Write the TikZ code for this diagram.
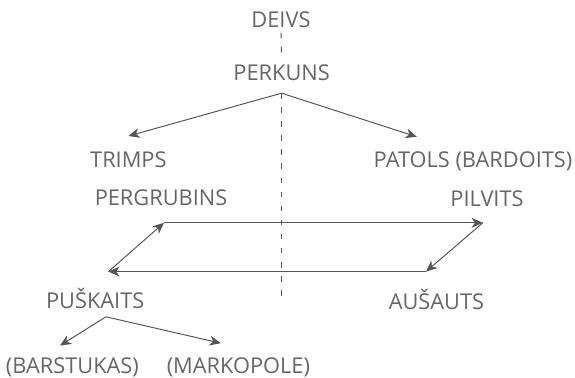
\documentclass[tikz,border=0pt]{standalone}
\usepackage{fontspec}
\setmainfont{Open Sans}
\usetikzlibrary{arrows.meta}
\definecolor{teksti}{HTML}{666666}
\definecolor{viiva}{HTML}{555555}

\begin{document}
\begin{tikzpicture}[
  nimi/.style={anchor=base,text=teksti,font=\fontsize{15.5}{18}\selectfont},
  nuoli/.style={draw=viiva,line width=0.7pt,-{Stealth[length=8pt,width=7pt,inset=2.5pt]}},
  katko/.style={draw=viiva,line width=0.7pt,dash pattern=on 4pt off 6pt}]
\useasboundingbox (0,0) rectangle (14.375,-9.45);
% jumalat
\node[nimi] (deivs) at (7.025,-0.69) {DEIVS};
\node[nimi] (perkuns) at (7.04,-2.01) {PERKUNS};
\node[nimi] (trimps) at (3.21,-4.2) {TRIMPS};
\node[nimi] (patols) at (11.825,-4.2) {PATOLS (BARDOITS)};
\node[nimi] (pergrubins) at (4.025,-5.15) {PERGRUBINS};
\node[nimi] (pilvits) at (12.175,-5.16) {PILVITS};
\node[nimi] (puskaits) at (2.38,-7.71) {PUŠKAITS};
\node[nimi] (ausauts) at (10.91,-7.74) {AUŠAUTS};
\node[nimi] (barstukas) at (1.81,-9.34) {(BARSTUKAS)};
\node[nimi] (markopole) at (5.96,-9.34) {(MARKOPOLE)};
% pisteet
\coordinate (haara) at (7.04,-2.33);
\coordinate (pohja) at (7.04,-7.54);
\coordinate (trimps-in) at (3.21,-3.40);
\coordinate (patols-in) at (10.42,-3.42);
\coordinate (nw) at (4.10,-5.57);
\coordinate (ne) at (12.07,-5.57);
\coordinate (se) at (10.65,-6.79);
\coordinate (sw) at (2.71,-6.79);
\coordinate (puskaits-out) at (2.65,-7.92);
\coordinate (barstukas-in) at (1.50,-8.64);
\coordinate (markopole-in) at (5.52,-8.58);
% katkoviiva
\path[katko] (deivs) -- (perkuns);
\path[katko] (haara) -- (pohja);
% nuolet
\path[nuoli] (haara) -- (trimps-in);
\path[nuoli] (haara) -- (patols-in);
\path[nuoli] (nw) -- (ne);
\path[nuoli] (ne) -- (se);
\path[nuoli] (se) -- (sw);
\path[nuoli] (sw) -- (nw);
\path[nuoli] (puskaits-out) -- (barstukas-in);
\path[nuoli] (puskaits-out) -- (markopole-in);
\end{tikzpicture}
\end{document}
